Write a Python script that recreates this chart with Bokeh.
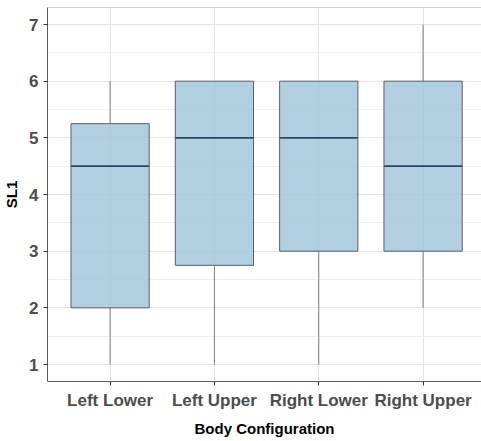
from bokeh.plotting import figure
from bokeh.models import Range1d, FixedTicker, Span
from bokeh.embed import file_html
from bokeh.resources import INLINE
from bokeh.models import ColumnDataSource

categories = ["Left Lower", "Left Upper", "Right Lower", "Right Upper"]
positions = [1, 2, 3, 4]
lower_whisker = [1, 1, 1, 2]
q1 = [2, 2.75, 3, 3]
median = [4.5, 5, 5, 4.5]
q3 = [5.25, 6, 6, 6]
upper_whisker = [6, 6, 6, 7]
y_ticks = [1, 2, 3, 4, 5, 6, 7]
y_minor = [1.5, 2.5, 3.5, 4.5, 5.5, 6.5]

box_w = 0.75
src = ColumnDataSource(dict(
    x=positions, lw=lower_whisker, q1=q1, med=median, q3=q3, uw=upper_whisker,
    xl=[p - box_w / 2 for p in positions], xr=[p + box_w / 2 for p in positions],
))

p = figure(width=481, height=441, output_backend="svg", toolbar_location=None,
           x_range=Range1d(0.4, 4.56), y_range=Range1d(0.7, 7.3),
           min_border_left=47, min_border_right=0, min_border_top=7, min_border_bottom=60)
p.background_fill_color = "white"
p.border_fill_color = "white"
p.outline_line_color = None

# grid
p.xaxis.ticker = FixedTicker(ticks=positions)
p.xaxis.major_label_overrides = {pos: c for pos, c in zip(positions, categories)}
p.yaxis.ticker = FixedTicker(ticks=y_ticks, minor_ticks=y_minor)
p.xgrid.grid_line_color = "#e3e3e3"
p.ygrid.grid_line_color = "#e3e3e3"
p.ygrid.minor_grid_line_color = "#f0f0f0"
p.xgrid.grid_line_width = 1
p.ygrid.grid_line_width = 1

# whiskers
p.segment(x0="x", y0="q3", x1="x", y1="uw", source=src, line_color="#7f7f7f", line_width=1)
p.segment(x0="x", y0="lw", x1="x", y1="q1", source=src, line_color="#7f7f7f", line_width=1)
# boxes
p.vbar(x="x", width=box_w, bottom="q1", top="q3", source=src,
       fill_color="#9fc3da", fill_alpha=0.8, line_color="#56606b", line_width=1)
# medians
p.segment(x0="xl", y0="med", x1="xr", y1="med", source=src, line_color="#2a4663", line_width=1.6)

p.add_layout(Span(location=7.3, dimension="width", line_color="#a0a0a0", line_width=1))

for ax in (p.xaxis, p.yaxis):
    ax.axis_line_color = "#595959"
    ax.axis_line_width = 1
    ax.major_tick_line_color = "#333333"
    ax.major_tick_in = 0
    ax.major_tick_out = 4
    ax.minor_tick_line_color = None
    ax.major_label_text_font = "Liberation Sans"
    ax.major_label_text_font_style = "bold"
    ax.major_label_text_font_size = "17px"
    ax.major_label_text_color = "#4d4d4d"
    ax.major_label_standoff = 5
    ax.axis_label_text_font = "Liberation Sans"
    ax.axis_label_text_font_style = "bold"
    ax.axis_label_text_font_size = "15px"
    ax.axis_label_text_color = "#000000"

p.xaxis.axis_label = "Body Configuration"
p.yaxis.axis_label = "SL1"
p.xaxis.axis_label_standoff = 7
p.yaxis.axis_label_standoff = 6

open("out.html", "w").write(file_html(p, INLINE))
